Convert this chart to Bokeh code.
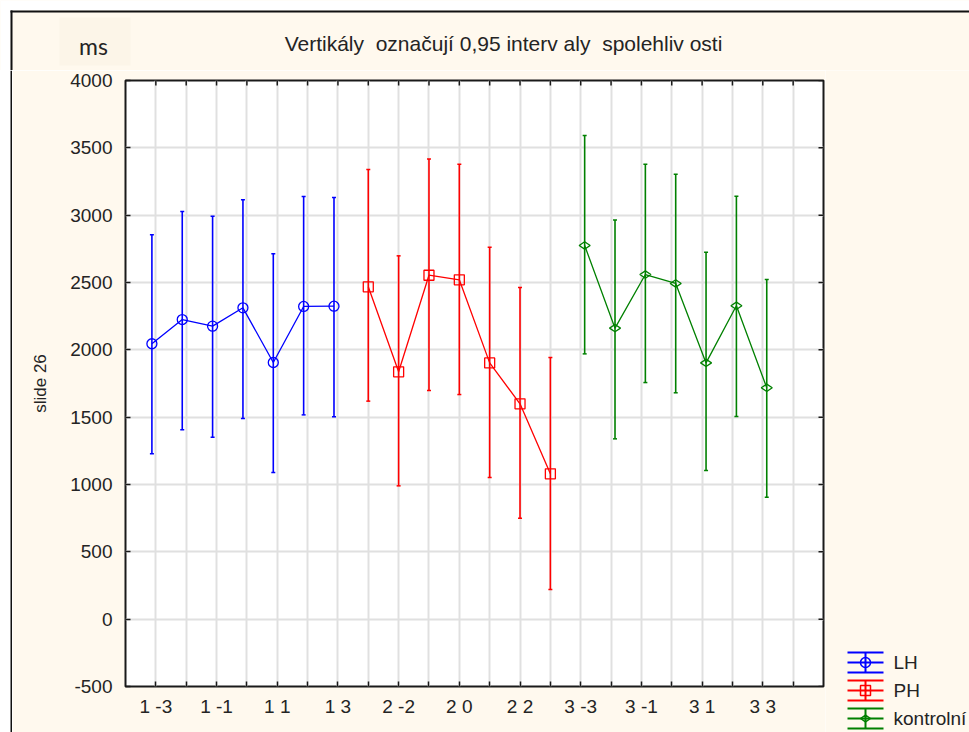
import numpy as np
from bokeh.plotting import figure
from bokeh.layouts import column, row
from bokeh.models import FixedTicker, Range1d, PrintfTickFormatter
from bokeh.core.properties import value
from bokeh.embed import file_html
from bokeh.resources import INLINE

# ---- data: reaction time (ms), mean with 0.95 confidence interval ----
groups = ["1", "2", "3"]
levels = [-3, -2, -1, 0, 1, 2, 3]
series_names = ["LH", "PH", "kontrolní"]
series_colors = ["#0000ff", "#ff0000", "#008000"]
series_markers = ["circle", "square", "diamond"]

lh_mean = [2045, 2225, 2176, 2312, 1906, 2322, 2324]
lh_low = [1228, 1406, 1351, 1490, 1089, 1517, 1503]
lh_high = [2854, 3027, 2992, 3114, 2713, 3139, 3131]

ph_mean = [2468, 1837, 2554, 2520, 1903, 1599, 1079]
ph_low = [1619, 990, 1698, 1668, 1052, 750, 220]
ph_high = [3339, 2698, 3418, 3379, 2762, 2463, 1943]

ko_mean = [2775, 2161, 2559, 2493, 1903, 2327, 1718]
ko_low = [1970, 1339, 1757, 1681, 1104, 1505, 906]
ko_high = [3592, 2965, 3379, 3304, 2725, 3141, 2522]

y_ticks = [-500, 0, 500, 1000, 1500, 2000, 2500, 3000, 3500, 4000]
category_labels = [f"{g} {lv}" for g in groups for lv in levels]

# a no-break space keeps the wide gaps of the original caption
title_text = "Vertikály \u00a0označují 0,95 interv aly \u00a0spolehliv osti"
unit_text = "ms"
y_label = "slide 26"

# ---- styling ----
W, H = 969, 732
TOP_H = 70          # header strip height
STRIP_W = 12        # white margin + frame line on the left
MAIN_W = 813
CREAM = "#fff9ee"
FONT = "Liberation Sans"
TEXT = "#242424"
GRID = "#e0e0e0"
EDGE = "#1a1a1a"
series_offsets = [-0.13, 0.0, 0.13]


def blank(width, height, x0, x1, y_top, y_bottom, bg):
    """A figure whose frame fills the canvas, in page pixel coordinates."""
    f = figure(width=width, height=height, x_range=Range1d(x0, x1),
               y_range=Range1d(y_bottom, y_top), output_backend="svg",
               toolbar_location=None, x_axis_location=None, y_axis_location=None,
               min_border=0, background_fill_color=bg, border_fill_color=bg,
               title=None, frame_align=False)
    f.outline_line_color = None
    f.xgrid.visible = False
    f.ygrid.visible = False
    return f


# ---- header: title and unit box ----
head = blank(W, TOP_H, 0, W, 0, TOP_H, CREAM)
head.quad(left=[0, 0], right=[W, 10], top=[0, 0], bottom=[10, TOP_H],
          fill_color="white", line_color=None)
head.quad(left=[10, 10], right=[W, 12], top=[10, 10], bottom=[12, TOP_H],
          fill_color="#111111", line_color=None)
head.quad(left=[59], right=[130], top=[17], bottom=[65],
          fill_color="#fcf5e8", line_color=None)
head.text(x=[503], y=[43], text=[title_text], text_font=value(FONT),
          text_font_size="21px", text_align="center", text_baseline="middle",
          text_color=TEXT)
head.text(x=[93], y=[45], text=[unit_text], text_font=value("Lato"),
          text_font_size="23px", text_align="center", text_baseline="middle",
          text_color=TEXT)

# ---- left margin strip ----
strip = blank(STRIP_W, H - TOP_H, 0, STRIP_W, TOP_H, H, "white")
strip.quad(left=[10], right=[12], top=[TOP_H], bottom=[H], fill_color="#111111",
           line_color=None)

# ---- main graph ----
p = figure(width=MAIN_W, height=H - TOP_H, x_range=Range1d(0, 23),
           y_range=Range1d(-500, 4000), output_backend="svg", toolbar_location=None,
           min_border_left=113, min_border_right=2, min_border_top=10,
           min_border_bottom=46, background_fill_color="white",
           border_fill_color=CREAM, title=None, frame_align=False)
p.outline_line_color = EDGE
p.outline_line_width = 2

n_cat = len(category_labels)
major_x = list(range(1, n_cat + 1, 2))
minor_x = list(range(2, n_cat + 2, 2))
x_ticker = FixedTicker(ticks=major_x, minor_ticks=minor_x)
y_ticker = FixedTicker(ticks=y_ticks, minor_ticks=[])

p.xaxis.ticker = x_ticker
p.xaxis.major_label_overrides = {t: category_labels[t - 1] for t in major_x}
p.yaxis.ticker = y_ticker
p.yaxis.formatter = PrintfTickFormatter(format="%d")
p.yaxis.axis_label = y_label

for ax in p.axis:
    ax.axis_line_color = None
    ax.major_tick_in = 5
    ax.major_tick_out = 0
    ax.minor_tick_in = 5
    ax.minor_tick_out = 0
    ax.major_tick_line_color = EDGE
    ax.minor_tick_line_color = EDGE
    ax.major_tick_line_width = 1.5
    ax.minor_tick_line_width = 1.5
    ax.major_label_text_font = FONT
    ax.major_label_text_font_size = "19px"
    ax.major_label_text_color = TEXT
p.xaxis.major_label_standoff = 9
p.yaxis.major_label_standoff = 13
p.yaxis.axis_label_text_font = FONT
p.yaxis.axis_label_text_font_size = "17px"
p.yaxis.axis_label_text_font_style = "normal"
p.yaxis.axis_label_text_color = TEXT
p.yaxis.axis_label_standoff = 17

p.xgrid.ticker = x_ticker
p.xgrid.grid_line_color = GRID
p.xgrid.grid_line_width = 2
p.xgrid.minor_grid_line_color = GRID
p.xgrid.minor_grid_line_width = 2
p.ygrid.ticker = y_ticker
p.ygrid.grid_line_color = GRID
p.ygrid.grid_line_width = 2

# inward tick marks along the top and right edges of the frame
x_all = major_x + minor_x
p.scatter(x=x_all, y=[y_ticks[-1]] * len(x_all), marker="dash", angle=np.pi / 2,
          size=10, line_color=EDGE, line_width=1.5)
p.scatter(x=[23] * len(y_ticks), y=y_ticks, marker="dash", size=10,
          line_color=EDGE, line_width=1.5)

# ---- series: interval bars, connecting line, markers ----
all_series = [(lh_mean, lh_low, lh_high), (ph_mean, ph_low, ph_high),
              (ko_mean, ko_low, ko_high)]
for gi, (mean, low, high) in enumerate(all_series):
    color = series_colors[gi]
    xs = [gi * len(levels) + li + 1 + series_offsets[gi] for li in range(len(levels))]
    p.segment(x0=xs, y0=low, x1=xs, y1=high, line_color=color, line_width=1.6)
    p.scatter(x=xs + xs, y=low + high, marker="dash", size=4, line_color=color,
              line_width=1.5)
    p.line(x=xs, y=mean, line_color=color, line_width=1.3)
    if series_markers[gi] == "diamond":
        p.scatter(x=xs, y=mean, marker="diamond", angle=np.pi / 2, size=11,
                  line_color=color, fill_alpha=0, line_width=1.3)
    else:
        p.scatter(x=xs, y=mean, marker=series_markers[gi], size=10,
                  line_color=color, fill_alpha=0, line_width=1.3)

# ---- legend panel ----
LEG_X0 = STRIP_W + MAIN_W
leg = blank(W - LEG_X0, H - TOP_H, LEG_X0, W, TOP_H, H, CREAM)
leg_cx, leg_hw, leg_hh = 865, 18, 10
for gi, name in enumerate(series_names):
    cy = 662 + 28 * gi
    color = series_colors[gi]
    leg.segment(x0=[leg_cx - leg_hw] * 3, x1=[leg_cx + leg_hw] * 3,
                y0=[cy - leg_hh, cy, cy + leg_hh], y1=[cy - leg_hh, cy, cy + leg_hh],
                line_color=color, line_width=2)
    leg.segment(x0=[leg_cx], x1=[leg_cx], y0=[cy - leg_hh], y1=[cy + leg_hh],
                line_color=color, line_width=2)
    if series_markers[gi] == "diamond":
        leg.scatter(x=[leg_cx], y=[cy], marker="diamond", angle=np.pi / 2, size=10,
                    line_color=color, fill_alpha=0, line_width=1.5)
    else:
        leg.scatter(x=[leg_cx], y=[cy], marker=series_markers[gi], size=10,
                    line_color=color, fill_alpha=0, line_width=1.5)
    leg.text(x=[893], y=[cy], text=[name], text_font=value(FONT),
             text_font_size="19px", text_baseline="middle", text_color=TEXT)

page = column(head, row(strip, p, leg))
open("out.html", "w").write(file_html(page, INLINE))
